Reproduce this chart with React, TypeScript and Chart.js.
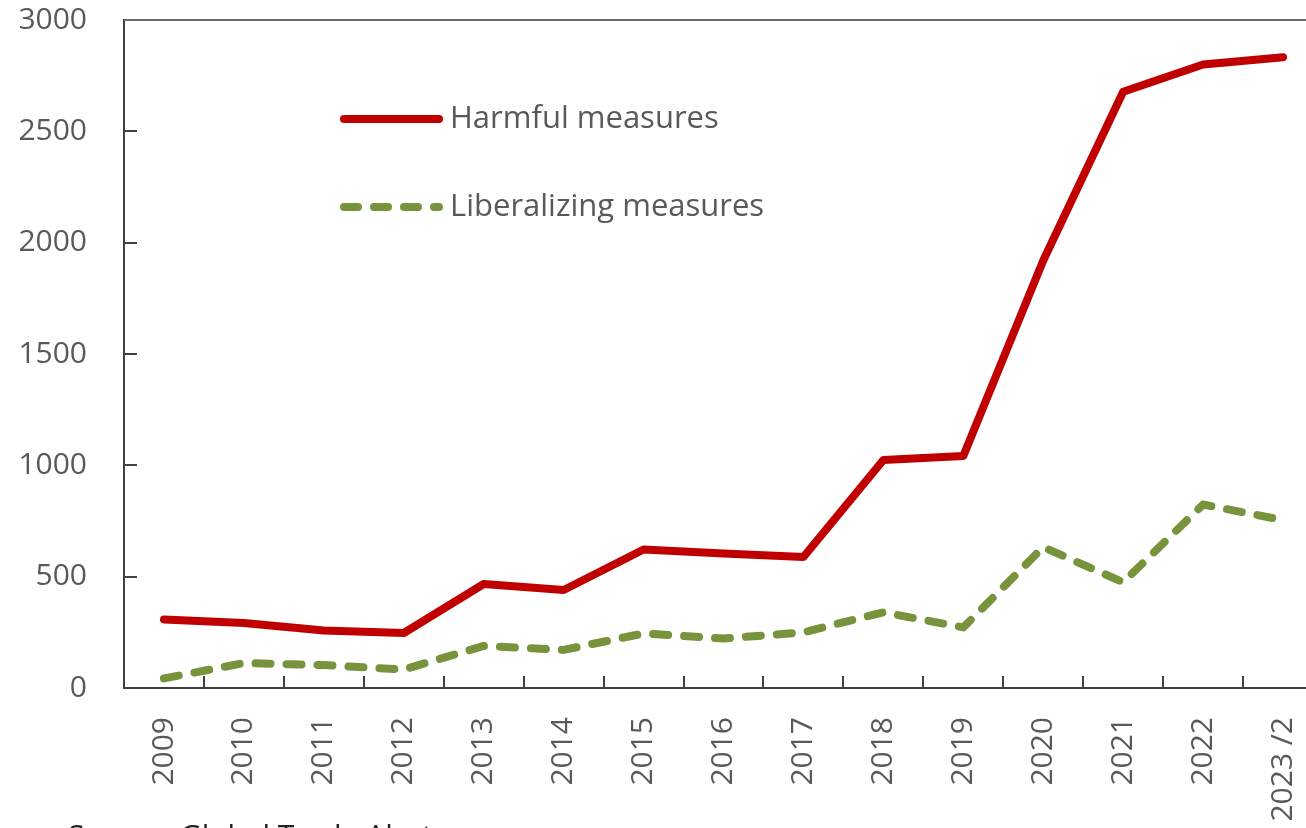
import React, { useEffect, useRef } from "react";
import { Chart, registerables } from "chart.js";

Chart.register(...registerables);

const categories = ["2009", "2010", "2011", "2012", "2013", "2014", "2015", "2016", "2017", "2018", "2019", "2020", "2021", "2022", "2023 /2"];
const harmful = [308, 292, 258, 247, 467, 440, 622, 604, 588, 1024, 1042, 1920, 2678, 2800, 2833];
const liberalizing = [43, 112, 103, 83, 189, 171, 245, 222, 250, 340, 272, 633, 475, 824, 754];
const yTicks = [0, 500, 1000, 1500, 2000, 2500, 3000];

const FONT = "'Open Sans', 'Noto Sans', sans-serif";
const TEXT = "#595959";
const AXIS = "#404040";

const decorPlugin = {
  id: "decor",
  afterDraw(chart: any) {
    const { ctx, chartArea, scales } = chart;
    const x = scales.x;
    const y = scales.y;
    ctx.save();
    // top border
    ctx.strokeStyle = "#6a6a6a";
    ctx.lineWidth = 2;
    ctx.beginPath();
    const yt = y.getPixelForValue(yTicks[yTicks.length - 1]);
    ctx.moveTo(chartArea.left, yt);
    ctx.lineTo(chartArea.right, yt);
    ctx.stroke();
    // inward y ticks
    ctx.strokeStyle = AXIS;
    ctx.lineWidth = 2;
    yTicks.slice(1, -1).forEach((v) => {
      const py = Math.round(y.getPixelForValue(v));
      ctx.beginPath();
      ctx.moveTo(chartArea.left, py);
      ctx.lineTo(chartArea.left + 13, py);
      ctx.stroke();
    });
    // inward x ticks at category boundaries
    for (let i = 1; i < categories.length; i++) {
      const px = Math.round((x.getPixelForTick(i - 1) + x.getPixelForTick(i)) / 2);
      ctx.beginPath();
      ctx.moveTo(px, chartArea.bottom);
      ctx.lineTo(px, chartArea.bottom - 12);
      ctx.stroke();
    }
    // legend
    const items = chart.data.datasets;
    const rows = [119, 207];
    items.forEach((ds: any, i: number) => {
      const ly = rows[i];
      ctx.strokeStyle = ds.borderColor;
      ctx.lineWidth = 8;
      ctx.lineCap = "round";
      ctx.setLineDash(ds.borderDash ? [14, 16] : []);
      ctx.beginPath();
      ctx.moveTo(344, ly);
      ctx.lineTo(439, ly);
      ctx.stroke();
      ctx.setLineDash([]);
      ctx.fillStyle = TEXT;
      ctx.font = `31px ${FONT}`;
      ctx.textBaseline = "middle";
      ctx.textAlign = "left";
      ctx.fillText(ds.label, 450, ly);
    });
    ctx.restore();
  },
};

export default function App() {
  const ref = useRef<HTMLCanvasElement>(null);
  useEffect(() => {
    document.documentElement.style.overflow = "hidden";
    document.body.style.overflow = "hidden";
    const chart = new Chart(ref.current as HTMLCanvasElement, {
      type: "line",
      data: {
        labels: categories,
        datasets: [
          {
            label: "Harmful measures",
            data: harmful,
            borderColor: "#C00000",
            borderWidth: 8,
            pointRadius: 0,
            tension: 0,
            borderCapStyle: "round",
            borderJoinStyle: "round",
          },
          {
            label: "Liberalizing measures",
            data: liberalizing,
            borderColor: "#77933C",
            borderWidth: 8,
            borderDash: [15, 16],
            pointRadius: 0,
            tension: 0,
            borderCapStyle: "round",
            borderJoinStyle: "round",
          },
        ],
      },
      options: {
        responsive: false,
        animation: false,
        layout: { padding: { left: 0, top: 20, right: 17, bottom: 0 } },
        plugins: { legend: { display: false }, tooltip: { enabled: false } },
        scales: {
          x: {
            offset: true,
            grid: { display: true, drawOnChartArea: false, drawTicks: false, offset: true },
            border: { display: true, color: AXIS, width: 2 },
            ticks: {
              autoSkip: false,
              minRotation: 90,
              maxRotation: 90,
              padding: 29,
              color: TEXT,
              font: { family: FONT, size: 30 },
            },
            afterFit: (s: any) => {
              s.height = 140;
              s.paddingLeft = 0;
              s.paddingRight = 0;
            },
          },
          y: {
            min: 0,
            max: 3000,
            grid: { display: true, drawOnChartArea: false, drawTicks: false },
            border: { display: true, color: AXIS, width: 2 },
            ticks: {
              stepSize: 500,
              padding: 37,
              color: TEXT,
              font: { family: FONT, size: 30 },
              callback: (v: any) => String(v),
            },
            afterFit: (s: any) => {
              s.width = 124;
              s.paddingTop = 0;
              s.paddingBottom = 0;
            },
          },
        },
      },
      plugins: [decorPlugin],
    });
    return () => chart.destroy();
  }, []);
  return (
    <div style={{ position: "absolute", left: 0, top: 0, width: 1306, height: 828, overflow: "hidden", background: "#fff" }}>
      <canvas ref={ref} width={1340} height={828} style={{ width: 1340, height: 828, display: "block" }} />
      <div
        style={{
          position: "absolute",
          left: 68,
          top: 814,
          fontFamily: FONT,
          fontSize: 30,
          color: "#222",
          whiteSpace: "nowrap",
        }}
      >
        Source: Global Trade Alert.
      </div>
    </div>
  );
}
